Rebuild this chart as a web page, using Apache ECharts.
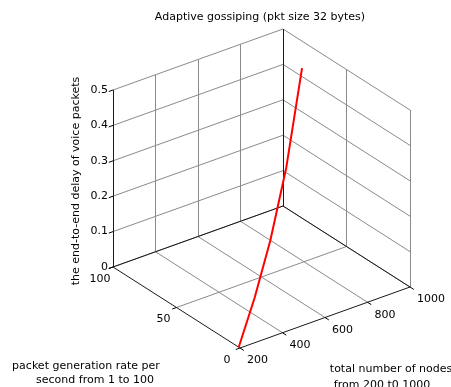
<!DOCTYPE html>
<html>
<head>
<meta charset="utf-8">
<script src="https://cdn.jsdelivr.net/npm/echarts@6/dist/echarts.min.js"></script>
<style>
  html, body { margin: 0; padding: 0; background: #fff; }
  #chart { width: 451px; height: 387px; }
</style>
</head>
<body>
<div id="chart"></div>
<script>
// axis ticks
const nodeTicks = [200, 400, 600, 800, 1000];
const rateTicks = [0, 50, 100];
const delayTicks = [0, 0.1, 0.2, 0.3, 0.4, 0.5];

// red curve
const nodes = [200, 400, 600, 800, 1000];
const rate = [1, 22, 43, 64, 85];
const delay = [0, 0.048, 0.12, 0.233, 0.424];

const titleText = 'Adaptive gossiping (pkt size 32 bytes)';
const zTitle = 'the end-to-end delay of voice packets';
const rateTitle = ['packet generation rate per', 'second from 1 to 100'];
const nodeTitle = ['total number of nodes', 'from 200 t0 1000'];

// view: screen position of the box origin and of each axis' full length
const W = 451, H = 387;
const origin = [240, 348];
const ex = [170, -61];   // nodes 200 -> 1000
const ey = [-127, -81];  // rate 0 -> 100
const ez = [0, -177];    // delay 0 -> 0.5
const FONT = '"DejaVu Sans", Arial, sans-serif';

function proj(n, r, z) {
    const a = (n - 200) / 800, b = r / 100, c = z / 0.5;
    return [origin[0] + a * ex[0] + b * ey[0] + c * ez[0],
            origin[1] + a * ex[1] + b * ey[1] + c * ez[1]];
}

const gray = [], dark = [], ticks = [];
const seg = (arr, p, q) => arr.push({ coords: [p, q] });

// back wall at rate = 100
delayTicks.forEach(z => seg(gray, proj(200, 100, z), proj(1000, 100, z)));
[400, 600, 800].forEach(n => seg(gray, proj(n, 100, 0), proj(n, 100, 0.5)));
// side wall at nodes = 1000
delayTicks.forEach(z => seg(gray, proj(1000, 0, z), proj(1000, 100, z)));
[0, 50].forEach(r => seg(gray, proj(1000, r, 0), proj(1000, r, 0.5)));
// floor
[400, 600, 800].forEach(n => seg(gray, proj(n, 0, 0), proj(n, 100, 0)));
seg(gray, proj(200, 50, 0), proj(1000, 50, 0));

// axis lines
seg(dark, proj(200, 100, 0), proj(200, 100, 0.5));
seg(dark, proj(200, 0, 0), proj(200, 100, 0));
seg(dark, proj(200, 0, 0), proj(1000, 0, 0));
seg(dark, proj(200, 100, 0), proj(1000, 100, 0));
seg(dark, proj(1000, 0, 0), proj(1000, 100, 0));
seg(dark, proj(1000, 100, 0), proj(1000, 100, 0.5));

// tick marks
nodeTicks.forEach(n => seg(ticks, proj(n, 0, 0), proj(n, -3, 0)));
rateTicks.forEach(r => seg(ticks, proj(200, r, 0), proj(180, r, 0)));
delayTicks.forEach(z => seg(ticks, proj(200, 100, z), proj(180, 100, z)));

const curve = nodes.map((n, i) => proj(n, rate[i], delay[i]));

const texts = [];
const txt = (x, y, s, align, extra) => texts.push(Object.assign({
    type: 'text', x: x, y: y,
    style: { text: s, font: '11px ' + FONT, fill: '#000', textAlign: align, textVerticalAlign: 'middle' }
}, extra || {}));

delayTicks.forEach(z => {
    const p = proj(200, 100, z);
    txt(p[0] - 5, p[1], String(z), 'right');
});
rateTicks.forEach(r => {
    const p = proj(200, r, 0);
    txt(p[0] - 13, p[1] + 12, String(r), 'center');
});
nodeTicks.forEach(n => {
    const p = proj(n, 0, 0);
    txt(p[0] + 7, p[1] + 12.5, String(n), 'left');
});
txt(86, 366, rateTitle[0], 'center');
txt(95, 380, rateTitle[1], 'center');
txt(391, 369, nodeTitle[0], 'center');
txt(382, 385, nodeTitle[1], 'center');
txt(260, 17, titleText, 'center');
texts.push({
    type: 'text', x: 76, y: 181, rotation: Math.PI / 2,
    style: { text: zTitle, font: '11px ' + FONT, fill: '#000', textAlign: 'center', textVerticalAlign: 'middle' }
});

const chart = echarts.init(document.getElementById('chart'));
chart.setOption({
    animation: false,
    backgroundColor: '#fff',
    grid: { left: 0, right: 0, top: 0, bottom: 0 },
    xAxis: { type: 'value', min: 0, max: W, show: false },
    yAxis: { type: 'value', min: 0, max: H, inverse: true, show: false },
    series: [
        { type: 'lines', coordinateSystem: 'cartesian2d', silent: true, data: gray,
          lineStyle: { color: '#8a8a8a', width: 1, opacity: 1 } },
        { type: 'lines', coordinateSystem: 'cartesian2d', silent: true, data: dark,
          lineStyle: { color: '#1a1a1a', width: 1, opacity: 1 } },
        { type: 'lines', coordinateSystem: 'cartesian2d', silent: true, data: ticks,
          lineStyle: { color: '#000', width: 1, opacity: 1 } },
        { type: 'line', data: curve, symbol: 'none', silent: true,
          lineStyle: { color: '#ff0000', width: 2 } }
    ],
    graphic: texts
});
</script>
</body>
</html>
